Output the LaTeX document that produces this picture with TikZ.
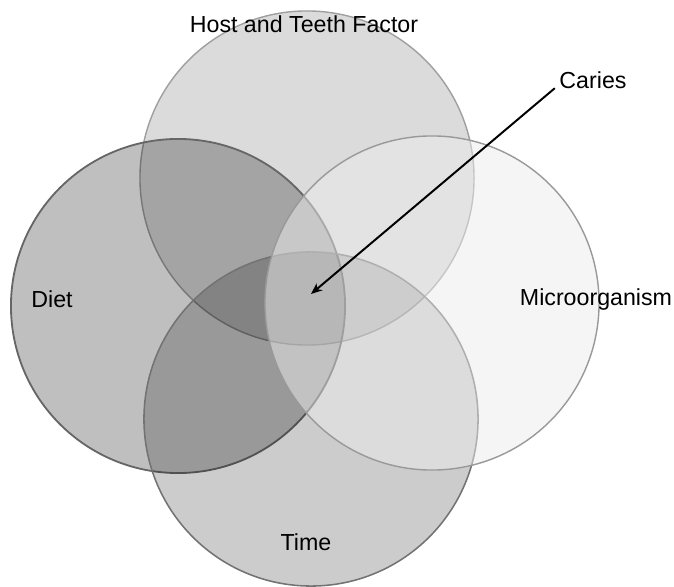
\documentclass[tikz,border=0pt]{standalone}
\usepackage{fontspec}
\setmainfont{Liberation Sans}
\usetikzlibrary{arrows.meta}

\begin{document}
\begin{tikzpicture}[
      x=0.025cm, y=0.025cm,
      factor/.style={circle, inner sep=0pt, minimum size=8.35cm},
      label/.style={font=\fontsize{16.5}{19}\selectfont, text=black, inner sep=1pt}
    ]
      \useasboundingbox (0,0) rectangle (674,586);
      % the four factors
      \node[factor, draw=gray!75, line width=1pt, fill=black, fill opacity=0.14] (host) at (307,408) {};
      \node[factor, draw=black!60, line width=1.3pt, fill=black, fill opacity=0.25] (diet) at (178,280) {};
      \node[factor, draw=black!55, line width=1.1pt, fill=black, fill opacity=0.2] (time) at (311,167) {};
      \node[factor, draw=gray!80, line width=1pt, fill=gray!15, fill opacity=0.5] (micro) at (432,283) {};
      % labels
      \node[label] (hostlbl) at (304,562) {Host and Teeth Factor};
      \node[label] (dietlbl) at (52,287) {Diet};
      \node[label] (microlbl) at (596,287) {Microorganism};
      \node[label] (timelbl) at (306,44) {Time};
      \node[label] (caries) at (593,506) {Caries};
      \coordinate (core) at (311,292);
      \draw[line width=1.4pt, -{Stealth[length=8pt, width=6.5pt]}]
        (caries.south west) ++(-3,2) -- (core);
    \end{tikzpicture}
\end{document}
